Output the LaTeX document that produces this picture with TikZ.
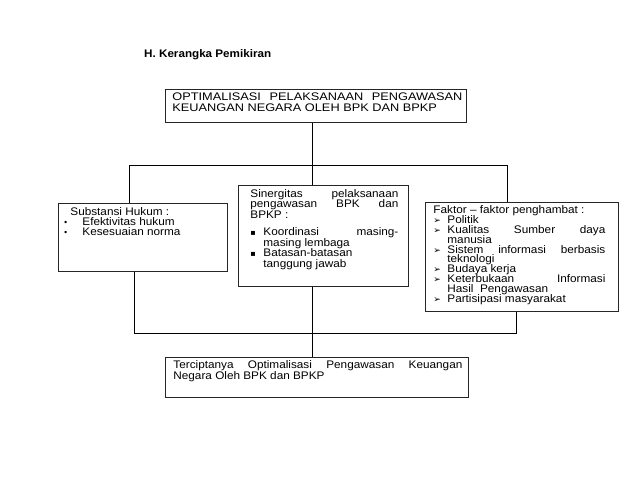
\documentclass[tikz,border=0pt]{standalone}
\usepackage{fontspec}
\setmainfont{Liberation Sans}[FakeStretch=1.06]
\newfontfamily\bodyf{Liberation Sans}[FakeStretch=1.07]
\newfontfamily\capf{Liberation Sans}[FakeStretch=1.16]
\newfontfamily\symf{DejaVu Sans}
\newcommand\J[1]{\makebox[\linewidth][s]{#1}}
\newcommand\BL[3]{\makebox[#1][l]{#2}#3}
% #1 width, #2 height, #3 left pad, #4 text width, #5 baselineskip, #6 first baseline, #7 text
\newcommand\boxtext[7]{\parbox[c][#2][t]{#1}{\rule{0pt}{#6}\hspace*{#3}\parbox[t]{#4}{\setlength\parindent{0pt}\setlength\lineskiplimit{-20pt}\bodyf\fontsize{11}{#5}\selectfont #7}}}
\newcommand\arr{{\symf\small ➢}}
\newcommand\sqb{{\symf\footnotesize ▪}}
\newcommand\dotb{{\symf\footnotesize •}}
\begin{document}
\begin{tikzpicture}[x=1pt,y=-1pt,
  every node/.style={font=\bodyf\fontsize{11}{10.5}\selectfont},
  box/.style={draw=black!85, line width=0.8pt, inner sep=0pt, anchor=north west},
  conn/.style={draw=black, line width=0.8pt}]
\useasboundingbox (0,0) rectangle (638,479);
\node[anchor=west, inner sep=0pt, font=\fontsize{11}{11}\selectfont\bfseries] (title) at (144,55) {H. Kerangka Pemikiran};
\node[box] (top) at (165,89) {\boxtext{301pt}{33pt}{7pt}{290pt}{11pt}{11.5pt}{\capf\fontsize{11}{11}\selectfont
\J{OPTIMALISASI PELAKSANAAN PENGAWASAN}\\
KEUANGAN NEGARA OLEH BPK DAN BPKP}};
\node[box] (left) at (58,203) {\boxtext{169pt}{68pt}{5pt}{160pt}{10pt}{12.5pt}{%
\hspace*{7pt}Substansi Hukum :\\
\BL{19pt}{\dotb}{Efektivitas hukum}\\
\BL{19pt}{\dotb}{Kesesuaian norma}}};
\node[box] (mid) at (238,185) {\boxtext{170pt}{101pt}{12pt}{148pt}{10.5pt}{12pt}{%
\J{Sinergitas pelaksanaan}\\
\J{pengawasan BPK dan}\\
BPKP :\\[7pt]
\makebox[13pt][l]{\sqb}\makebox[\dimexpr\linewidth-13pt\relax][s]{Koordinasi masing-}\\
\hspace*{13pt}masing lembaga\\
\BL{13pt}{\sqb}{Batasan-batasan}\\
\hspace*{13pt}tanggung jawab}};
\node[box] (right) at (425,202) {\boxtext{193pt}{109pt}{8pt}{172pt}{9.8pt}{11.5pt}{%
Faktor – faktor penghambat :\\
\BL{14pt}{\arr}{Politik}\\
\makebox[14pt][l]{\arr}\makebox[\dimexpr\linewidth-14pt\relax][s]{Kualitas Sumber daya}\\
\hspace*{14pt}manusia\\
\makebox[14pt][l]{\arr}\makebox[\dimexpr\linewidth-14pt\relax][s]{Sistem informasi berbasis}\\
\hspace*{14pt}teknologi\\
\BL{14pt}{\arr}{Budaya kerja}\\
\makebox[14pt][l]{\arr}\makebox[\dimexpr\linewidth-14pt\relax][s]{Keterbukaan Informasi}\\
\hspace*{14pt}Hasil\ \ Pengawasan\\
\BL{14pt}{\arr}{Partisipasi masyarakat}}};
\node[box] (bottom) at (165,357) {\boxtext{303pt}{40pt}{8pt}{289pt}{11pt}{11.5pt}{%
\J{Terciptanya Optimalisasi Pengawasan Keuangan}\\
Negara Oleh BPK dan BPKP}};
\coordinate (hl) at (129,165);
\coordinate (hc) at (312,165);
\coordinate (hr) at (507,165);
\coordinate (bl) at (134,333);
\coordinate (bc) at (312,333);
\coordinate (br) at (516,333);
\draw[conn] (hc |- top.south) -- (hc);
\draw[conn] (hl |- left.north) -- (hl) -- (hr) -- (hr |- right.north);
\draw[conn] (hc) -- (hc |- mid.north);
\draw[conn] (bl |- left.south) -- (bl) -- (br) -- (br |- right.south);
\draw[conn] (bc |- mid.south) -- (bc |- bottom.north);
\end{tikzpicture}
\end{document}
